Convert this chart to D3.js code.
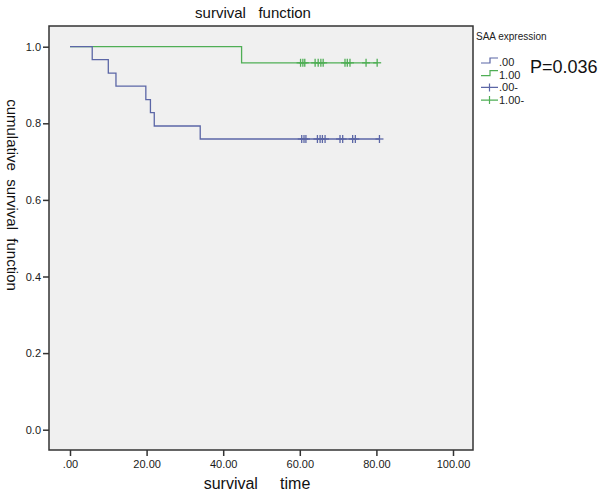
<!DOCTYPE html>
<html><head><meta charset="utf-8">
<script src="https://d3js.org/d3.v7.min.js"></script>
<style>body{margin:0;background:#fff;}svg{display:block;font-family:"Liberation Sans",Arial,sans-serif;}</style>
</head><body>
<svg id="c" width="600" height="494"></svg>
<script>
// Group .00 (blue): event times and survival after each event
const blueEventTimes = [0, 5.8, 10, 12, 19.8, 21, 22, 34];
const blueSurvival   = [1.0, 0.966, 0.931, 0.897, 0.862, 0.828, 0.793, 0.759];
const blueEnd = 80.8;
const blueCensored = [60.5, 61.1, 61.6, 64.6, 65.3, 65.9, 66.6, 70.5, 71.2, 73.8, 74.5, 80.8];
// Group 1.00 (green)
const greenEventTimes = [0, 44.8];
const greenSurvival   = [1.0, 0.958];
const greenEnd = 80.2;
const greenCensored = [60.2, 60.8, 61.3, 64.0, 64.8, 65.5, 66.1, 71.8, 72.4, 73.1, 77.3, 80.2];
const xTicks = [0, 20, 40, 60, 80, 100];
const xTickLabels = [".00", "20.00", "40.00", "60.00", "80.00", "100.00"];
const yTicks = [0, 0.2, 0.4, 0.6, 0.8, 1.0];
const yTickLabels = ["0.0", "0.2", "0.4", "0.6", "0.8", "1.0"];
const legendLabels = [".00", "1.00", ".00-", "1.00-"];

const blue = "#5b66a6", green = "#4fae55";
const svg = d3.select("#c");
const L = 49, R = 473, T = 26, B = 450;
const x = d3.scaleLinear().domain([0, 100]).range([70, 453]);
const y = d3.scaleLinear().domain([0, 1]).range([429.7, 46.7]);

svg.append("rect").attr("x", L).attr("y", T).attr("width", R - L).attr("height", B - T)
  .attr("fill", "#f0f0f0").attr("stroke", "#333").attr("stroke-width", 1.5);

// axes
const xAxis = svg.append("g").attr("transform", `translate(0,${B})`)
  .call(d3.axisBottom(x).tickValues(xTicks).tickFormat((d, i) => xTickLabels[i]).tickSize(6).tickPadding(4));
const yAxis = svg.append("g").attr("transform", `translate(${L},0)`)
  .call(d3.axisLeft(y).tickValues(yTicks).tickFormat((d, i) => yTickLabels[i]).tickSize(6).tickPadding(2));
[xAxis, yAxis].forEach(g => {
  g.select(".domain").remove();
  g.selectAll("line").attr("stroke", "#333").attr("stroke-width", 1.5);
  g.selectAll("text").attr("fill", "#1a1a1a").style("font-size", "11px").style("font-family", '"Liberation Sans",Arial,sans-serif');
});

function stepPath(times, surv, end) {
  const pts = [];
  times.forEach((t, i) => {
    if (i > 0) pts.push([t, surv[i - 1]]);
    pts.push([t, surv[i]]);
  });
  pts.push([end, surv[surv.length - 1]]);
  return d3.line().x(d => x(d[0])).y(d => y(d[1]))(pts);
}
function drawGroup(times, surv, end, cens, col) {
  svg.append("path").attr("d", stepPath(times, surv, end)).attr("fill", "none")
    .attr("stroke", col).attr("stroke-width", 1.3);
  const s = surv[surv.length - 1];
  svg.append("g").selectAll("line").data(cens).join("line")
    .attr("x1", d => x(d)).attr("x2", d => x(d))
    .attr("y1", y(s) - 4).attr("y2", y(s) + 4)
    .attr("stroke", col).attr("stroke-width", 1.3);
  svg.append("g").selectAll("line").data(cens).join("line")
    .attr("x1", d => x(d) - 4).attr("x2", d => x(d) + 4)
    .attr("y1", y(s)).attr("y2", y(s))
    .attr("stroke", col).attr("stroke-width", 1.3);
}
drawGroup(greenEventTimes, greenSurvival, greenEnd, greenCensored, green);
drawGroup(blueEventTimes, blueSurvival, blueEnd, blueCensored, blue);

// titles
svg.append("text").attr("x", 253).attr("y", 18).attr("text-anchor", "middle")
  .style("font-size", "15px").attr("fill", "#111").attr("xml:space", "preserve").text("survival   function");
svg.append("text").attr("x", 257).attr("y", 489).attr("text-anchor", "middle")
  .style("font-size", "16px").attr("fill", "#111").attr("xml:space", "preserve").text("survival     time");
svg.append("text").attr("transform", "translate(7,195) rotate(90)").attr("text-anchor", "middle")
  .style("font-size", "15px").attr("fill", "#111").attr("xml:space", "preserve").text("cumulative  survival  function");

// legend
svg.append("text").attr("x", 476).attr("y", 40).style("font-size", "10px").attr("fill", "#222").text("SAA expression");
const legCols = [blue, green, blue, green];
legendLabels.forEach((lab, i) => {
  const ly = 63 + i * 12.7;
  if (i < 2) {
    svg.append("path").attr("d", `M481,${ly} H490 V${ly - 5} H498`).attr("fill", "none")
      .attr("stroke", legCols[i]).attr("stroke-width", 1.2);
  } else {
    svg.append("path").attr("d", `M481,${ly - 1} H498 M489.5,${ly - 5} V${ly + 3}`).attr("fill", "none")
      .attr("stroke", legCols[i]).attr("stroke-width", 1.2);
  }
  svg.append("text").attr("x", 499).attr("y", ly + 3).style("font-size", "11px").attr("fill", "#222").text(lab);
});
svg.append("text").attr("x", 530).attr("y", 73).style("font-size", "18px").attr("fill", "#111").text("P=0.036");
</script>
</body></html>
